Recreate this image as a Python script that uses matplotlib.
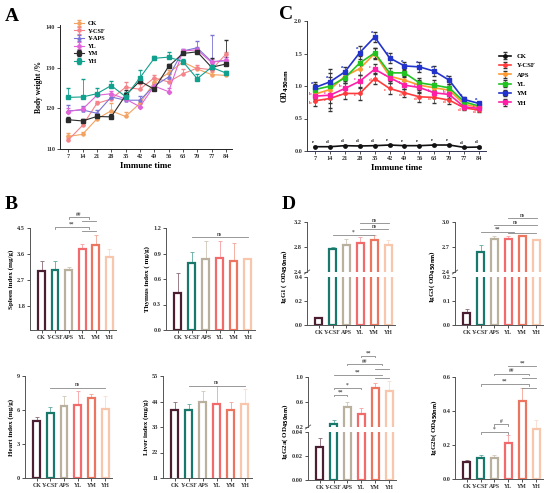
import matplotlib
matplotlib.use("Agg")
import matplotlib.pyplot as plt
import numpy as np

plt.rcParams['font.family'] = ['Liberation Serif', 'DejaVu Serif']
plt.rcParams['font.weight'] = 'bold'
plt.rcParams['axes.labelweight'] = 'bold'

# ---- data ----
days = [7, 14, 21, 28, 35, 42, 49, 56, 63, 70, 77, 84]

# panel A, body weight %
bw_names = ["CK", "Y-CSF", "Y-APS", "YL", "YM", "YH"]
bw_ck = [113.1, 113.6, 117.4, 119.4, 118.0, 121.2, 126.4, 128.7, 131.4, 129.7, 128.3, 128.1]
bw_csf = [112.2, 115.8, 121.2, 122.3, 125.2, 124.7, 127.5, 126.5, 128.5, 129.9, 129.5, 133.3]
bw_aps = [119.4, 119.6, 118.8, 122.8, 122.0, 122.0, 125.5, 127.7, 134.1, 134.9, 131.5, 131.7]
bw_yl = [119.2, 119.8, 123.2, 123.6, 122.3, 120.4, 125.5, 124.1, 134.1, 134.4, 131.3, 131.9]
bw_ym = [117.2, 116.9, 118.0, 117.9, 123.2, 126.7, 124.7, 130.3, 133.5, 133.9, 130.1, 130.9]
bw_yh = [122.7, 122.8, 123.6, 125.6, 122.9, 127.5, 132.3, 132.6, 131.5, 127.3, 130.1, 128.7]
bw_err_ck = [0.8, 0.6, 0.6, 1.8, 1.2, 0.8, 0.8, 0.7, 0.6, 0.5, 0.6, 0.5]
bw_err_csf = [0.6, 0.8, 0.6, 1.0, 1.3, 1.2, 0.8, 0.8, 1.2, 0.8, 1.0, 0.6]
bw_err_aps = [1.4, 1.0, 0.8, 0.8, 1.0, 1.0, 0.8, 0.8, 0.6, 1.6, 6.5, 1.0]
bw_err_yl = [0.8, 0.6, 0.6, 0.6, 0.8, 0.8, 0.6, 0.8, 0.5, 0.6, 0.8, 0.8]
bw_err_ym = [0.6, 0.6, 0.6, 0.6, 1.2, 1.0, 0.6, 0.6, 0.6, 0.6, 2.2, 6.0]
bw_err_yh = [2.3, 4.3, 1.5, 1.1, 1.0, 2.0, 0.6, 1.2, 0.6, 1.2, 1.6, 0.6]

# panel C, OD450nm
od_names = ["CK", "Y-CSF", "APS", "YL", "YM", "YH"]
od_ck = [0.066, 0.066, 0.082, 0.077, 0.082, 0.092, 0.082, 0.082, 0.092, 0.092, 0.056, 0.061]
od_csf = [0.772, 0.808, 0.885, 0.885, 1.115, 0.962, 0.895, 0.834, 0.824, 0.783, 0.665, 0.629]
od_aps = [0.875, 0.946, 1.151, 1.268, 1.499, 1.151, 1.090, 1.013, 0.972, 0.936, 0.721, 0.670]
od_yl = [0.946, 0.997, 1.125, 1.355, 1.509, 1.202, 1.202, 1.049, 1.013, 0.972, 0.757, 0.690]
od_ym = [0.977, 1.064, 1.217, 1.514, 1.754, 1.432, 1.309, 1.294, 1.228, 1.090, 0.793, 0.731]
od_yh = [0.844, 0.859, 0.962, 1.074, 1.258, 1.130, 1.013, 0.977, 0.895, 0.870, 0.680, 0.655]
od_err = [0.08, 0.2, 0.08, 0.1, 0.08, 0.08, 0.06, 0.08, 0.08, 0.06, 0.04, 0.03]
od_err_ck = [0.01] * 12
od_letters_ym = list("aaaaaaaaaaaa")
od_letters_ck = list("eddddeeeeedd")
od_letters_csf = list("bcccdcdddddd")
od_letters_yh = list("bcbcccbcbbcc")

# panel B and D, bar groups
groups = ["CK", "Y-CSF", "APS", "YL", "YM", "YH"]
spleen = [3.00, 3.03, 3.03, 3.77, 3.90, 3.49]
spleen_err = [0.35, 0.32, 0.12, 0.17, 0.37, 0.28]
thymus = [0.437, 0.786, 0.832, 0.844, 0.817, 0.83]
thymus_err = [0.23, 0.13, 0.21, 0.2, 0.21, 0.02]
heart = [5.04, 5.72, 6.36, 6.40, 7.10, 6.07]
heart_err = [0.3, 0.58, 0.91, 1.28, 0.29, 1.2]
liver = [40.4, 40.4, 43.7, 43.0, 40.4, 43.0]
liver_err = [3.3, 2.4, 4.9, 7.8, 3.6, 6.3]
igg1 = [0.055, 2.773, 2.837, 2.864, 2.907, 2.827]
igg1_err = [0.013, 0.027, 0.083, 0.096, 0.083, 0.093]
igg3 = [0.052, 2.64, 2.80, 2.80, 2.83, 2.78]
igg3_err = [0.014, 0.08, 0.03, 0.03, 0.02, 0.01]
igg2a = [0.0277, 0.243, 0.525, 0.405, 0.82, 0.78]
igg2a_err = [0.0073, 0.067, 0.075, 0.105, 0.08, 0.15]
igg2b = [0.099, 0.123, 0.123, 0.214, 0.458, 0.294]
igg2b_err = [0.014, 0.019, 0.019, 0.045, 0.078, 0.053]

bar_colors = ["#4b1e31", "#18786c", "#b9b19e", "#f36a6d", "#ec7560", "#f8c6ad"]
err_colors = ["#8a6a76", "#5fa9a0", "#cfc8b8", "#f7a0a2", "#f3a594", "#fadccd"]

W, H = 550, 493
fig = plt.figure(figsize=(W / 100, H / 100), dpi=100)


def rect(l, r, t, b):
    return [l / W, 1 - b / H, (r - l) / W, (b - t) / H]


def style(ax, col="#555555"):
    for s in ["top", "right"]:
        ax.spines[s].set_visible(False)
    for s in ["left", "bottom"]:
        ax.spines[s].set_color(col)
        ax.spines[s].set_linewidth(0.7)
    ax.tick_params(labelsize=4.5, length=2, width=0.6, colors="#333333", pad=1.5)


# ---- panel A ----
axA = fig.add_axes(rect(60, 232, 25, 149))
style(axA, "#222222")
a_series = [bw_ck, bw_csf, bw_aps, bw_yl, bw_ym, bw_yh]
a_errs = [bw_err_ck, bw_err_csf, bw_err_aps, bw_err_yl, bw_err_ym, bw_err_yh]
a_colors = ["#f4a261", "#f4848a", "#7b74d6", "#e064d8", "#2b2b2b", "#12a08e"]
a_markers = ["o", "o", "^", "D", "s", "s"]
for name, vals, err, c, m in zip(bw_names, a_series, a_errs, a_colors, a_markers):
    axA.errorbar(days, vals, yerr=[np.zeros(len(err)), err], color=c, lw=0.8,
                 marker=m, ms=2.2, capsize=1.2, elinewidth=0.6, label=name)
axA.set_xlim(3, 87)
axA.set_ylim(110, 140.5)
axA.set_xticks(days)
axA.set_yticks([110, 120, 130, 140])
axA.set_xlabel("Immune time", fontsize=6.5, labelpad=2)
axA.set_ylabel("Body weight /%", fontsize=5.5, labelpad=2)
axA.legend(loc="upper left", bbox_to_anchor=(0.05, 1.08), frameon=False, fontsize=4.5,
           handlelength=1.6, labelspacing=0.35, handletextpad=0.6)

# ---- panel C ----
axC = fig.add_axes(rect(307, 486, 21, 151))
style(axC, "#333355")
c_series = [od_ck, od_csf, od_aps, od_yl, od_ym, od_yh]
c_colors = ["#111111", "#ff3b3b", "#ff9a2e", "#21c321", "#2233cc", "#ff1fa6"]
c_markers = ["o", "o", "o", "s", "s", "s"]
for name, vals, c, m in zip(od_names, c_series, c_colors, c_markers):
    err = od_err_ck if name == "CK" else od_err
    axC.errorbar(days, vals, yerr=err, color=c, lw=1.2, marker=m, ms=2.4,
                 ecolor="#333333", elinewidth=0.5, capsize=1.2, label=name)
# letters above the upper series, to the left of the lower ones
for vals, lets, c in [(od_ym, od_letters_ym, "#2233cc"), (od_ck, od_letters_ck, "#111111")]:
    for d, v, l in zip(days, vals, lets):
        axC.text(d - 1.2, v + 0.04, l, fontsize=3.5, color=c, ha="center", va="bottom")
for vals, lets, c, dy in [(od_csf, od_letters_csf, "#ff3b3b", -0.03),
                          (od_yh, od_letters_yh, "#ff1fa6", 0.035)]:
    for d, v, l in zip(days, vals, lets):
        axC.text(d - 2.2, v + dy, l, fontsize=3.5, color=c, ha="center", va="center")
axC.set_xlim(3.2, 87.3)
axC.set_ylim(0, 2.0)
axC.set_xticks(days)
axC.set_yticks([0.0, 0.5, 1.0, 1.5, 2.0])
axC.set_yticklabels(["0.0", "0.5", "1.0", "1.5", "2.0"])
axC.set_xlabel("Immune time", fontsize=6.5, labelpad=2)
axC.set_ylabel("OD$_{\\mathbf{450nm}}$", fontsize=5.5, labelpad=2)
axC.legend(loc="center left", bbox_to_anchor=(1.04, 0.55), frameon=False, fontsize=4.8,
           handlelength=1.8, labelspacing=0.55, handletextpad=0.8)


# ---- bar helpers ----
def bars(ax, vals, errs, only=None):
    x = np.arange(len(groups))
    for i in range(len(groups)):
        if only is not None and i not in only:
            continue
        ax.bar(x[i], vals[i], width=0.5, facecolor="white", edgecolor=bar_colors[i], lw=1.6,
               zorder=2)
        ax.errorbar(x[i], vals[i], yerr=[[0], [errs[i]]], color=err_colors[i], capsize=1.3,
                    elinewidth=0.6, capthick=0.6, zorder=1)
    ax.set_xticks(x)
    ax.set_xticklabels(groups, fontsize=4.2)
    ax.set_xlim(-0.85, 5.5)


def bracket(ax, x1, x2, y, label, sub=None, tick=0.015, ns=False):
    lo, hi = ax.get_ylim()
    d = (hi - lo) * tick
    col = "#888888"
    if ns:
        ax.plot([x1, x2], [y, y], color=col, lw=0.6, clip_on=False)
    else:
        ax.plot([x1, x1, x2, x2], [y - d, y, y, y - d], color=col, lw=0.6, clip_on=False)
    if sub is not None:
        ax.plot([sub[0], sub[1]], [sub[2], sub[2]], color=col, lw=0.6, clip_on=False)
    ax.text((x1 + x2) / 2, y + d * 0.3, label, fontsize=4, ha="center", va="bottom",
            color="#555555", clip_on=False)


# ---- panel B ----
axS = fig.add_axes(rect(30, 116, 228, 330))
style(axS)
axS.set_ylim(0.95, 4.5)
bars(axS, spleen, spleen_err)
axS.set_yticks([1.8, 2.7, 3.6, 4.5])
axS.set_ylabel("Spleen index (mg/g)", fontsize=5, labelpad=2)
bracket(axS, 1, 3.5, 4.53, "**", sub=(3, 4, 4.40))
bracket(axS, 2, 3.5, 4.87, "##", sub=(3, 4, 4.74))

axT = fig.add_axes(rect(166, 255, 228, 330))
style(axT)
axT.set_ylim(0, 1.2)
bars(axT, thymus, thymus_err)
axT.set_yticks([0.0, 0.3, 0.6, 0.9, 1.2])
axT.set_ylabel("Thymus index ( mg/g)", fontsize=5, labelpad=2)
bracket(axT, 1, 5, 1.09, "ns", ns=True)

axH = fig.add_axes(rect(25, 112, 376, 478))
style(axH)
axH.set_ylim(0, 9)
bars(axH, heart, heart_err)
axH.set_yticks([0, 3, 6, 9])
axH.set_ylabel("Heart index (mg/g)", fontsize=5, labelpad=2)
bracket(axH, 1, 5, 7.95, "ns", ns=True)

axL = fig.add_axes(rect(163, 252, 376, 478))
style(axL)
axL.set_ylim(11, 55)
bars(axL, liver, liver_err)
axL.set_yticks([11, 22, 33, 44, 55])
axL.set_ylabel("Liver index (mg/g)", fontsize=5, labelpad=2)
bracket(axL, 1, 5, 50.8, "ns", ns=True)


# ---- panel D ----
def broken(l, r, t, mid_t, mid_b, b, up_lim, lo_lim, up_ticks, lo_ticks, vals, errs, label):
    up = fig.add_axes(rect(l, r, t, mid_t))
    lo = fig.add_axes(rect(l, r, mid_b, b))
    style(up)
    style(lo)
    up.spines["bottom"].set_visible(False)
    up.tick_params(axis="x", bottom=False, labelbottom=False)
    up.set_ylim(*up_lim)
    lo.set_ylim(*lo_lim)
    bars(up, vals, errs, only=[1, 2, 3, 4, 5])
    bars(lo, vals, errs)
    up.set_xticklabels([])
    up.set_yticks(up_ticks)
    lo.set_yticks(lo_ticks)
    up.set_yticklabels(["%.1f" % v for v in up_ticks])
    lo.set_yticklabels(["%.2f" % v if lo_lim[1] < 0.1 else "%.1f" % v for v in lo_ticks])
    # break mark
    kw = dict(color="#555555", lw=0.6, clip_on=False, transform=up.transAxes)
    up.plot([-0.03, 0.03], [-0.04, 0.04], **kw)
    lo.set_ylabel(label, fontsize=5, labelpad=2)
    lo.yaxis.set_label_coords(-0.2, 1.0)
    return up, lo


u1, l1 = broken(307, 395, 222, 272, 277, 325, (2.4, 3.2), (0, 0.4), [2.4, 2.8, 3.2],
                [0.0, 0.2, 0.4], igg1, igg1_err, "IgG1 ( OD$_{\\mathbf{450nm}}$)")
bracket(u1, 1, 4, 3.0, "*")
bracket(u1, 3, 5, 3.09, "ns", ns=True)
bracket(u1, 3, 5.1, 3.18, "ns", ns=True)

u3, l3 = broken(455, 543, 222, 272, 277, 325, (2.4, 3.0), (0, 0.2), [2.4, 2.7, 3.0],
                [0.0, 0.1, 0.2], igg3, igg3_err, "IgG3( OD$_{\\mathbf{450nm}}$)")
bracket(u3, 1, 3.4, 2.885, "**", sub=(3, 5, 2.865))
bracket(u3, 2, 5.1, 2.96, "ns", ns=True)
bracket(u3, 3, 5.1, 3.05, "ns", ns=True)

u2a, l2a = broken(308, 396, 377, 427, 432, 480, (0.2, 1.0), (0, 0.04), [0.2, 0.6, 1.0],
                  [0.00, 0.02, 0.04], igg2a, igg2a_err, "IgG2a( OD$_{\\mathbf{450nm}}$)")
bracket(u2a, 1, 2, 0.71, "**")
bracket(u2a, 1, 3, 0.82, "*")
bracket(u2a, 1, 4.5, 1.04, "**", sub=(4, 5, 0.99))
bracket(u2a, 2, 4.5, 1.21, "##", sub=(4, 5, 1.13))
bracket(u2a, 3, 4, 1.34, "**")

ax2b = fig.add_axes(rect(455, 543, 377, 479))
style(ax2b)
ax2b.set_ylim(0, 0.6)
bars(ax2b, igg2b, igg2b_err)
ax2b.set_yticks([0.0, 0.2, 0.4, 0.6])
ax2b.set_yticklabels(["0.0", "0.2", "0.4", "0.6"])
ax2b.set_ylabel("IgG2b( OD$_{\\mathbf{450nm}}$)", fontsize=5, labelpad=2)
bracket(ax2b, 1, 3, 0.275, "*")
bracket(ax2b, 2, 3, 0.322, "#")
bracket(ax2b, 1, 4.5, 0.557, "**", sub=(4, 5, 0.537))
bracket(ax2b, 2, 4.5, 0.62, "##", sub=(4, 5, 0.596))
bracket(ax2b, 3, 5, 0.665, "**", ns=True)

# panel letters
for s, x, y in [("A", 5, 8), ("B", 5, 196), ("C", 279, 6), ("D", 282, 196)]:
    fig.text(x / W, 1 - y / H, s, fontsize=14, fontweight="bold", va="top", ha="left")

fig.savefig("out.png", dpi=100)
